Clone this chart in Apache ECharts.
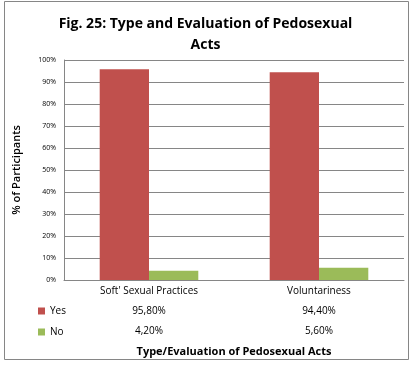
<!DOCTYPE html>
<html><head><meta charset="utf-8">
<script src="https://cdn.jsdelivr.net/npm/echarts@6/dist/echarts.min.js"></script>
<style>html,body{margin:0;padding:0;background:#fff}#c{width:411px;height:365px}</style>
</head><body><div id="c"></div>
<script>
const categories = ["Soft' Sexual Practices", "Voluntariness"];
const yesValues = [95.8, 94.4];
const noValues = [4.2, 5.6];
const seriesNames = ["Yes", "No"];
const yTicks = [0,10,20,30,40,50,60,70,80,90,100];

const fmt = v => v.toFixed(2).replace('.', ',') + '%';
const chart = echarts.init(document.getElementById('c'), null, {renderer:'canvas'});
const FONT = "'Open Sans', 'Noto Sans', sans-serif";
chart.setOption({
  animation:false,
  graphic:[{type:'rect', shape:{x:4.5,y:1.5,width:404,height:358}, style:{fill:'none', stroke:'#868686', lineWidth:1}, silent:true}],
  title:{text:'Fig. 25: Type and Evaluation of Pedosexual\nActs', left:'center', top:9,
    textStyle:{fontFamily:FONT, fontSize:14, fontWeight:'bold', color:'#000', lineHeight:21}},
  legend:{orient:'vertical', left:33, top:301, itemWidth:7, itemHeight:7, itemGap:11, icon:'rect',
    textStyle:{fontFamily:FONT, fontSize:10, color:'#000', padding:[0,0,0,0]}, data:seriesNames},
  grid:{left:64, right:7, top:60, bottom:85, containLabel:false},
  xAxis:{type:'category', data:categories,
    axisLine:{lineStyle:{color:'#868686'}}, axisTick:{show:false},
    axisLabel:{interval:0, margin:1, fontFamily:FONT, fontSize:10, color:'#000', lineHeight:20,
      formatter:(v, i) => v + '\n' + fmt(yesValues[i]) + '\n' + fmt(noValues[i])},
    name:'Type/Evaluation of Pedosexual Acts', nameLocation:'middle', nameGap:64,
    nameTextStyle:{fontFamily:FONT, fontSize:11, fontWeight:'bold', color:'#000'}},
  yAxis:{type:'value', min:0, max:100, interval:10,
    axisLine:{show:true, lineStyle:{color:'#868686'}}, axisTick:{show:false},
    splitLine:{lineStyle:{color:'#868686'}},
    axisLabel:{fontFamily:FONT, fontSize:7, color:'#000', margin:8, formatter:v=>v+'%'},
    name:'% of Participants', nameLocation:'middle', nameGap:42, nameRotate:90,
    nameTextStyle:{fontFamily:FONT, fontSize:11, fontWeight:'600', color:'#000'}},
  series:[
    {name:seriesNames[0], type:'bar', data:yesValues, barGap:'0%', barCategoryGap:'42%', itemStyle:{color:'#C0504D'}},
    {name:seriesNames[1], type:'bar', data:noValues, itemStyle:{color:'#9BBB59'}}
  ]
});
</script></body></html>
